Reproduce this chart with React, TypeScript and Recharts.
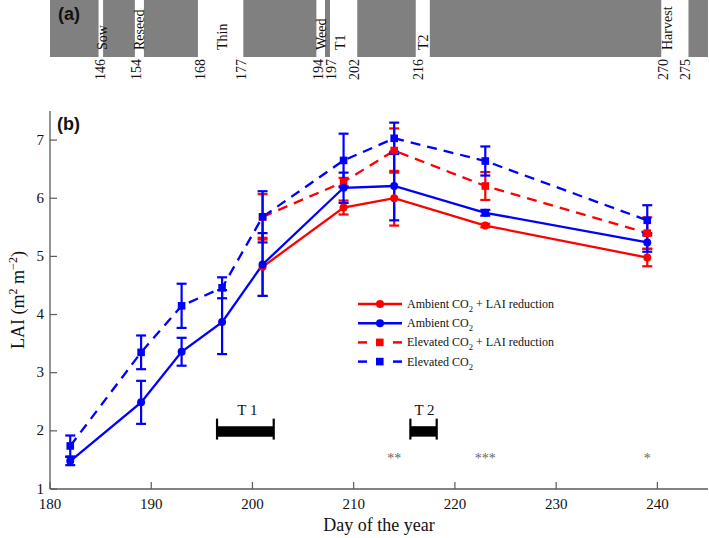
import React from 'react';
import {
  ComposedChart,
  Line,
  XAxis,
  YAxis,
  ErrorBar,
  ReferenceArea,
  ReferenceLine,
  ReferenceDot,
} from 'recharts';

const SERIF = '"Liberation Serif", "Times New Roman", serif';
const SANS = '"Liberation Sans", Arial, sans-serif';
const AXIS = '#5a5a5a';
const TICK = 7;
const RED = '#ff0000';
const BLUE = '#0000ff';

// ---------- Panel (a): management timeline ----------
const eventLabels = ['Sow', 'Reseed', 'Thin', 'Weed', 'T1', 'T2', 'Harvest'];
const eventStart = [145.7, 153.7, 167.6, 193.7, 196.7, 215.6, 269.7];
const eventEnd = [146.7, 155.7, 177.6, 195.6, 202.7, 218.7, 275.7];
const eventLabelDay = [146.4, 154.7, 172.9, 194.8, 198.9, 217.2, 271.0];
const eventTicks = [146, 154, 168, 177, 194, 197, 202, 216, 270, 275];

// ---------- Panel (b): LAI ----------
const xTicks = [180, 190, 200, 210, 220, 230, 240];
const yTicks = [1, 2, 3, 4, 5, 6, 7];

const allDays = [182, 189, 193, 197, 201, 209, 214, 223, 239];
const ambient = [1.48, 2.49, 3.36, 3.87, 4.86, 6.18, 6.21, 5.75, 5.24];
const ambientErr = [0.07, 0.37, 0.24, 0.55, 0.54, 0.26, 0.59, 0.05, 0.16];
const elevated = [1.74, 3.35, 4.15, 4.46, 5.68, 6.65, 7.03, 6.64, 5.62];
const elevatedErr = [0.18, 0.29, 0.38, 0.18, 0.44, 0.46, 0.27, 0.25, 0.26];

const reducedDays = [201, 209, 214, 223, 239];
const ambientReduced = [4.82, 5.84, 6.0, 5.53, 4.98];
const ambientReducedErr = [0.5, 0.12, 0.47, 0.03, 0.15];
const elevatedReduced = [5.68, 6.28, 6.82, 6.21, 5.4];
const elevatedReducedErr = [0.39, 0.07, 0.38, 0.24, 0.27];

const treatmentLabels = ['T 1', 'T 2'];
const treatmentStart = [196.5, 215.6];
const treatmentEnd = [202.1, 218.2];
const treatmentLabelDay = [199.5, 217.0];
const treatmentBar = [1.9, 2.08];
const treatmentCap = [1.85, 2.21];
const treatmentLabelY = 2.36;

const sigDays = [214, 223, 239];
const sigLabels = ['**', '***', '*'];
const sigY = 1.54;

const legendLabels = [
  ['Ambient CO', '2', ' + LAI reduction'],
  ['Ambient CO', '2', ''],
  ['Elevated CO', '2', ' + LAI reduction'],
  ['Elevated CO', '2', ''],
];
const legendColors = [RED, BLUE, RED, BLUE];
const legendDashed = [false, false, true, true];

const mk = (days: number[], vals: number[], errs: number[]) =>
  days.map((d, i) => ({ day: d, v: vals[i], e: errs[i] }));

const ambientData = mk(allDays, ambient, ambientErr);
const elevatedData = mk(allDays, elevated, elevatedErr);
const ambientReducedData = mk(reducedDays, ambientReduced, ambientReducedErr);
const elevatedReducedData = mk(reducedDays, elevatedReduced, elevatedReducedErr);

// ---------- tick renderers ----------
const BottomTick = (p: any) => (
  <g>
    <line x1={p.x} x2={p.x} y1={p.y} y2={p.y - TICK} stroke={AXIS} strokeWidth={1.2} />
    <text x={p.x} y={p.y + 19.5} textAnchor="middle" fontSize={15} fontFamily={SERIF} fill="#111">
      {p.payload.value}
    </text>
  </g>
);
const TopTick = (p: any) => (
  <line x1={p.x} x2={p.x} y1={p.y} y2={p.y + TICK} stroke={AXIS} strokeWidth={1.2} />
);
const LeftTick = (p: any) => (
  <g>
    <line x1={p.x} x2={p.x + TICK} y1={p.y} y2={p.y} stroke={AXIS} strokeWidth={1.2} />
    <text x={p.x - 6} y={p.y + 4.5} textAnchor="end" fontSize={15} fontFamily={SERIF} fill="#111">
      {p.payload.value}
    </text>
  </g>
);
const RightTick = (p: any) => (
  <line x1={p.x} x2={p.x - TICK} y1={p.y} y2={p.y} stroke={AXIS} strokeWidth={1.2} />
);
const EventTick = (p: any) => {
  const y = p.y + 2;
  return (
    <text
      x={p.x}
      y={y}
      dy="0.36em"
      transform={`rotate(-90 ${p.x} ${y})`}
      textAnchor="end"
      fontSize={14}
      fontFamily={SERIF}
      fill="#111"
    >
      {p.payload.value}
    </text>
  );
};

const eventLabelContent = (text: string) => (props: any) => {
  const vb = props.viewBox || {};
  const x = vb.x;
  const yb = vb.y + vb.height - 7;
  return (
    <text
      x={x}
      y={yb}
      dy="0.36em"
      transform={`rotate(-90 ${x} ${yb})`}
      textAnchor="start"
      fontSize={14}
      fontFamily={SERIF}
      fill="#111"
    >
      {text}
    </text>
  );
};

const squareDot = (color: string) => (p: any) => {
  if (p.cx == null || p.cy == null) return <g key={p.key} />;
  return <rect key={p.key} x={p.cx - 3.8} y={p.cy - 3.8} width={7.6} height={7.6} fill={color} />;
};

const LegendOverlay = () => (
  <g>
    {legendLabels.map((lab, i) => {
      const y = 304 + i * 19.2;
      const c = legendColors[i];
      return (
        <g key={i}>
          {legendDashed[i] ? (
            <g>
              <line x1={358} x2={367} y1={y} y2={y} stroke={c} strokeWidth={2.5} />
              <line x1={393} x2={402} y1={y} y2={y} stroke={c} strokeWidth={2.5} />
              <rect x={376} y={y - 3.8} width={7.6} height={7.6} fill={c} />
            </g>
          ) : (
            <g>
              <line x1={358} x2={402} y1={y} y2={y} stroke={c} strokeWidth={2.5} />
              <circle cx={380} cy={y} r={4} fill={c} />
            </g>
          )}
          <text x={407} y={y + 4} fontSize={12} fontFamily={SERIF} fill="#111">
            <tspan>{lab[0]}</tspan>
            <tspan dy={4} fontSize={8.5}>{lab[1]}</tspan>
            <tspan dy={-4}>{lab[2]}</tspan>
          </text>
        </g>
      );
    })}
  </g>
);

export default function App() {
  return (
    <div style={{ position: 'absolute', left: 0, top: 0, width: 709, height: 538, background: '#fff', overflow: 'hidden' }}>
      {/* Panel (b) */}
      <div style={{ position: 'absolute', left: 0, top: 0 }}>
        <ComposedChart width={709} height={538} margin={{ top: 111, right: 1, bottom: 0, left: 0 }}>
          <XAxis
            xAxisId="x"
            type="number"
            dataKey="day"
            domain={[180, 245]}
            ticks={xTicks}
            interval={0}
            allowDataOverflow
            height={49}
            tickSize={0}
            tickMargin={0}
            tickLine={false}
            tick={BottomTick}
            axisLine={{ stroke: AXIS, strokeWidth: 1.3 }}
            label={{ value: 'Day of the year', position: 'insideBottom', offset: 7, fontSize: 18, fontFamily: SERIF, fill: '#111' }}
          />
          <XAxis
            xAxisId="xt"
            orientation="top"
            type="number"
            dataKey="day"
            domain={[180, 245]}
            ticks={xTicks}
            interval={0}
            allowDataOverflow
            height={0}
            tickSize={0}
            tickMargin={0}
            tickLine={false}
            tick={TopTick}
            axisLine={{ stroke: AXIS, strokeWidth: 1.3 }}
          />
          <YAxis
            yAxisId="y"
            type="number"
            domain={[1, 7.5]}
            ticks={yTicks}
            interval={0}
            allowDataOverflow
            width={50}
            tickSize={0}
            tickMargin={0}
            tickLine={false}
            tick={LeftTick}
            axisLine={{ stroke: AXIS, strokeWidth: 1.3 }}
          />
          <YAxis
            yAxisId="yr"
            orientation="right"
            type="number"
            domain={[1, 7.5]}
            ticks={yTicks}
            interval={0}
            allowDataOverflow
            width={0}
            tickSize={0}
            tickMargin={0}
            tickLine={false}
            tick={RightTick}
            axisLine={{ stroke: AXIS, strokeWidth: 1.3 }}
          />

          {treatmentLabels.map((t, i) => (
            <ReferenceArea
              key={`ta${i}`}
              xAxisId="x"
              yAxisId="y"
              x1={treatmentStart[i]}
              x2={treatmentEnd[i]}
              y1={treatmentBar[0]}
              y2={treatmentBar[1]}
              fill="#000"
              fillOpacity={1}
              stroke="none"
            />
          ))}
          {treatmentLabels.map((t, i) => (
            <ReferenceLine
              key={`tl${i}`}
              xAxisId="x"
              yAxisId="y"
              segment={[
                { x: treatmentStart[i], y: treatmentCap[0] },
                { x: treatmentStart[i], y: treatmentCap[1] },
              ]}
              stroke="#000"
              strokeWidth={2.2}
            />
          ))}
          {treatmentLabels.map((t, i) => (
            <ReferenceLine
              key={`tr${i}`}
              xAxisId="x"
              yAxisId="y"
              segment={[
                { x: treatmentEnd[i], y: treatmentCap[0] },
                { x: treatmentEnd[i], y: treatmentCap[1] },
              ]}
              stroke="#000"
              strokeWidth={2.2}
            />
          ))}
          {treatmentLabels.map((t, i) => (
            <ReferenceDot
              key={`tt${i}`}
              xAxisId="x"
              yAxisId="y"
              x={treatmentLabelDay[i]}
              y={treatmentLabelY}
              r={0}
              stroke="none"
              fill="none"
              label={{ value: t, position: 'center', fontSize: 15, fontFamily: SERIF, fill: '#111' }}
            />
          ))}
          {sigLabels.map((s, i) => (
            <ReferenceDot
              key={`s${i}`}
              xAxisId="x"
              yAxisId="y"
              x={sigDays[i]}
              y={sigY}
              r={0}
              stroke="none"
              fill="none"
              label={{ value: s, position: 'center', fontSize: 14, fontFamily: SERIF, fill: '#666' }}
            />
          ))}

          <Line
            xAxisId="x"
            yAxisId="y"
            data={ambientReducedData}
            dataKey="v"
            stroke={RED}
            strokeWidth={2.3}
            dot={{ r: 4, fill: RED, stroke: RED, strokeWidth: 0 }}
            isAnimationActive={false}
          >
            <ErrorBar dataKey="e" direction="y" width={5} stroke={RED} strokeWidth={2.2} />
          </Line>
          <Line
            xAxisId="x"
            yAxisId="y"
            data={elevatedReducedData}
            dataKey="v"
            stroke={RED}
            strokeWidth={2.3}
            strokeDasharray="10 7"
            dot={squareDot(RED)}
            isAnimationActive={false}
          >
            <ErrorBar dataKey="e" direction="y" width={5} stroke={RED} strokeWidth={2.2} />
          </Line>
          <Line
            xAxisId="x"
            yAxisId="y"
            data={ambientData}
            dataKey="v"
            stroke={BLUE}
            strokeWidth={2.3}
            dot={{ r: 4, fill: BLUE, stroke: BLUE, strokeWidth: 0 }}
            isAnimationActive={false}
          >
            <ErrorBar dataKey="e" direction="y" width={5} stroke={BLUE} strokeWidth={2.2} />
          </Line>
          <Line
            xAxisId="x"
            yAxisId="y"
            data={elevatedData}
            dataKey="v"
            stroke={BLUE}
            strokeWidth={2.3}
            strokeDasharray="10 7"
            dot={squareDot(BLUE)}
            isAnimationActive={false}
          >
            <ErrorBar dataKey="e" direction="y" width={5} stroke={BLUE} strokeWidth={2.2} />
          </Line>
        </ComposedChart>
      </div>

      {/* Panel (a) */}
      <div style={{ position: 'absolute', left: 0, top: 0 }}>
        <ComposedChart width={709} height={90} margin={{ top: 0, right: 1, bottom: 0, left: 50 }}>
          <XAxis
            xAxisId="a"
            type="number"
            dataKey="day"
            domain={[135, 280]}
            ticks={eventTicks}
            interval={0}
            allowDataOverflow
            height={33}
            tickSize={0}
            tickMargin={0}
            tickLine={false}
            axisLine={false}
            tick={EventTick}
          />
          <YAxis yAxisId="a" type="number" domain={[0, 1]} hide allowDataOverflow />
          <ReferenceArea xAxisId="a" yAxisId="a" x1={135} x2={280} y1={0} y2={1} fill="#808080" fillOpacity={1} stroke="none" />
          {eventLabels.map((l, i) => (
            <ReferenceArea
              key={`e${i}`}
              xAxisId="a"
              yAxisId="a"
              x1={eventStart[i]}
              x2={eventEnd[i]}
              y1={0}
              y2={1}
              fill="#ffffff"
              fillOpacity={1}
              stroke="none"
            />
          ))}
          {eventLabels.map((l, i) => (
            <ReferenceLine
              key={`el${i}`}
              xAxisId="a"
              yAxisId="a"
              x={eventLabelDay[i]}
              stroke="none"
              label={eventLabelContent(l)}
            />
          ))}
        </ComposedChart>
      </div>

      {/* Overlay: panel letters, y-axis title, legend */}
      <svg width={709} height={538} style={{ position: 'absolute', left: 0, top: 0, pointerEvents: 'none' }}>
        <text x={58} y={20} fontSize={18} fontWeight="bold" fontFamily={SANS} fill="#111">(a)</text>
        <text x={57} y={130} fontSize={18} fontWeight="bold" fontFamily={SANS} fill="#111">(b)</text>
        <text
          x={24}
          y={300}
          transform="rotate(-90 24 300)"
          textAnchor="middle"
          fontSize={18}
          fontFamily={SERIF}
          fill="#111"
        >
          <tspan>LAI (m</tspan>
          <tspan dy={-7} fontSize={12}>2</tspan>
          <tspan dy={7}> m</tspan>
          <tspan dy={-7} fontSize={12}>−2</tspan>
          <tspan dy={7}>)</tspan>
        </text>
        <LegendOverlay />
      </svg>
    </div>
  );
}
